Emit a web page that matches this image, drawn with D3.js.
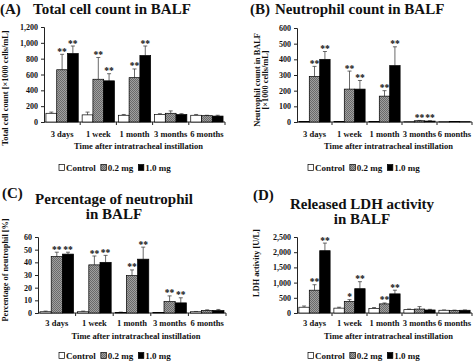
<!DOCTYPE html>
<html>
<head>
<meta charset="utf-8">
<script src="https://cdn.jsdelivr.net/npm/d3@7"></script>
<style>
body { margin: 0; background: #fff; }
svg { display: block; }
text { font-family: "Liberation Serif", Tinos, "Times New Roman", serif; font-weight: bold; fill: #111; }
</style>
</head>
<body>
<svg id="chart" width="474" height="364"></svg>
<script>
const categories = ['3 days', '1 week', '1 month', '3 months', '6 months'];
const groups = ['Control', '0.2 mg', '1.0 mg'];

// rows = time points, columns = [Control, 0.2 mg, 1.0 mg]
const totalMean = [[110, 660, 865], [90, 540, 520], [85, 560, 840], [95, 110, 95], [85, 80, 75]];
const totalSD   = [[15, 195, 95], [35, 275, 90], [10, 110, 120], [10, 30, 10], [10, 5, 10]];
const totalSig  = [['', '**', '**'], ['', '**', '**'], ['', '**', '**'], ['', '', ''], ['', '', '']];

const neutMean = [[3, 290, 400], [3, 210, 210], [3, 165, 360], [2, 8, 6], [2, 3, 2]];
const neutSD   = [[0, 65, 50], [0, 115, 55], [0, 35, 120], [0, 2, 2], [0, 0, 0]];
const neutSig  = [['', '**', '**'], ['', '**', '**'], ['', '**', '**'], ['', '**', '**'], ['', '', '']];

const pctMean = [[1, 44.5, 46.5], [1, 38, 40], [0.5, 29.5, 42.5], [0.3, 9, 8], [1, 2, 2]];
const pctSD   = [[0.5, 3.5, 1.5], [0.5, 7, 5.5], [0.2, 4.5, 9.5], [0.1, 4.5, 4], [0.2, 0.5, 0.8]];
const pctSig  = [['', '**', '**'], ['', '**', '**'], ['', '**', '**'], ['', '**', '**'], ['', '', '']];

const ldhMean = [[190, 750, 2050], [160, 380, 800], [150, 300, 630], [110, 130, 100], [90, 80, 90]];
const ldhSD   = [[40, 180, 250], [30, 60, 230], [30, 30, 120], [20, 80, 20], [10, 15, 10]];
const ldhSig  = [['', '**', '**'], ['', '*', '**'], ['', '**', '**'], ['', '', ''], ['', '', '']];

const xTitle = 'Time after intratracheal instillation';

const panels = [
    { letter: '(A)', lx: 0, ly: 14, title: ['Total cell count in BALF'], tx: 33, ty: 14, anchor: 'start',
      mean: totalMean, sd: totalSD, sig: totalSig, max: 1200, step: 200,
      x0: 44, x1: 225, yb: 122, yt: 27,
      yTitle: ['Total cell count [×1000 cells/mL]'], ytx: 8, yty: 88,
      catY: 137, xtY: 149, legY: 171, legX: 59 },
    { letter: '(B)', lx: 250, ly: 14, title: ['Neutrophil count in BALF'], tx: 275, ty: 14, anchor: 'start',
      mean: neutMean, sd: neutSD, sig: neutSig, max: 600, step: 100,
      x0: 297, x1: 472, yb: 122, yt: 28,
      yTitle: ['Neutrophil count in BALF', '[×1000 cells/mL]'], ytx: 260, yty: 80,
      catY: 137, xtY: 149, legY: 171, legX: 308 },
    { letter: '(C)', lx: 2, ly: 198, title: ['Percentage of neutrophil', 'in BALF'], tx: 114, ty: 204, anchor: 'middle',
      mean: pctMean, sd: pctSD, sig: pctSig, max: 60, step: 10,
      x0: 38, x1: 226, yb: 313, yt: 237,
      yTitle: ['Percentage of neutrophil [%]'], ytx: 8, yty: 270,
      catY: 326, xtY: 339, legY: 359, legX: 59 },
    { letter: '(D)', lx: 253, ly: 200, title: ['Released LDH activity', 'in BALF'], tx: 362, ty: 209, anchor: 'middle',
      mean: ldhMean, sd: ldhSD, sig: ldhSig, max: 2500, step: 500,
      x0: 297, x1: 472, yb: 313, yt: 237,
      yTitle: ['LDH activity [U/L]'], ytx: 259, yty: 263,
      catY: 326, xtY: 339, legY: 359, legX: 308 }
];

const svg = d3.select('#chart');

// checkered grey used for the 0.2 mg bars
const defs = svg.append('defs');
const pat = defs.append('pattern').attr('id', 'check')
    .attr('width', 2).attr('height', 2).attr('patternUnits', 'userSpaceOnUse');
pat.append('rect').attr('width', 2).attr('height', 2).attr('fill', '#a0a0a0');
pat.append('rect').attr('width', 1).attr('height', 1).attr('fill', '#6a6a6a');
pat.append('rect').attr('x', 1).attr('y', 1).attr('width', 1).attr('height', 1).attr('fill', '#6a6a6a');

const fills = ['#fff', 'url(#check)', '#000'];

function drawPanel(p) {
    const g = svg.append('g');

    g.append('text').attr('x', p.lx).attr('y', p.ly).attr('font-size', 15).text(p.letter);
    p.title.forEach((t, i) => g.append('text')
        .attr('x', p.tx).attr('y', p.ty + i * 15).attr('font-size', 15)
        .attr('text-anchor', p.anchor).text(t));

    const x = d3.scaleBand().domain(categories).range([p.x0, p.x1]);
    const xi = d3.scaleBand().domain(groups).range([0, x.bandwidth()]).paddingOuter(0.18);
    const y = d3.scaleLinear().domain([0, p.max]).range([p.yb, p.yt]);

    const yAxis = g.append('g').attr('transform', `translate(${p.x0},0)`)
        .call(d3.axisLeft(y).tickValues(d3.range(0, p.max + 1, p.step))
            .tickFormat(d3.format(',')).tickSize(3).tickPadding(3));
    yAxis.attr('font-family', null);
    yAxis.select('.domain').attr('stroke', '#222');
    yAxis.selectAll('.tick line').attr('stroke', '#222');
    yAxis.selectAll('text').attr('font-size', 8);

    // x axis: ticks sit on the band edges
    const edges = categories.map(c => x(c)).concat([p.x1]);
    g.append('line').attr('x1', p.x0).attr('x2', p.x1).attr('y1', p.yb).attr('y2', p.yb)
        .attr('stroke', '#222');
    g.selectAll('.xt').data(edges.slice(1)).join('line')
        .attr('x1', d => d).attr('x2', d => d).attr('y1', p.yb).attr('y2', p.yb + 3)
        .attr('stroke', '#222');
    g.selectAll('.cat').data(categories).join('text')
        .attr('x', d => x(d) + x.bandwidth() / 2).attr('y', p.catY)
        .attr('text-anchor', 'middle').attr('font-size', 8.5).text(d => d);
    g.append('text').attr('x', (p.x0 + p.x1) / 2 + 4).attr('y', p.xtY)
        .attr('text-anchor', 'middle').attr('font-size', 8.5).text(xTitle);

    p.yTitle.forEach((t, i) => g.append('text')
        .attr('transform', `translate(${p.ytx + i * 8},${p.yty}) rotate(-90)`)
        .attr('text-anchor', 'middle').attr('font-size', 8.3).text(t));

    const cells = [];
    categories.forEach((c, ci) => groups.forEach((gr, gi) => cells.push({
        c, gr, gi, v: p.mean[ci][gi], sd: p.sd[ci][gi], sig: p.sig[ci][gi]
    })));

    const bw = xi.bandwidth();
    // error bars (upper only)
    g.selectAll('.err').data(cells.filter(d => d.sd > 0)).join('path')
        .attr('d', d => {
            const cx = x(d.c) + xi(d.gr) + bw / 2;
            const top = y(d.v + d.sd), base = y(d.v);
            return `M${cx},${base}V${top}M${cx - 2},${top}H${cx + 2}`;
        })
        .attr('stroke', '#444').attr('stroke-width', 0.8).attr('fill', 'none');

    g.selectAll('.bar').data(cells).join('rect')
        .attr('x', d => x(d.c) + xi(d.gr))
        .attr('y', d => y(d.v))
        .attr('width', bw)
        .attr('height', d => p.yb - y(d.v))
        .attr('fill', d => fills[d.gi])
        .attr('stroke', '#000').attr('stroke-width', 0.7);

    g.selectAll('.sig').data(cells.filter(d => d.sig)).join('text')
        .attr('x', d => x(d.c) + xi(d.gr) + bw / 2)
        .attr('y', d => y(d.v + d.sd) + 0.5)
        .attr('text-anchor', 'middle').attr('font-size', 9.5).text(d => d.sig);

    // legend: swatch, label, then a small gap before the next swatch
    let lx = p.legX;
    groups.forEach((gr, gi) => {
        g.append('rect').attr('x', lx).attr('y', p.legY - 6.5).attr('width', 5.5).attr('height', 6)
            .attr('fill', fills[gi]).attr('stroke', '#000').attr('stroke-width', 0.7);
        const t = g.append('text').attr('x', lx + 7).attr('y', p.legY)
            .attr('font-size', 9).text(gr);
        lx += 7 + t.node().getComputedTextLength() + 5;
    });
}

panels.forEach(drawPanel);
</script>
</body>
</html>
